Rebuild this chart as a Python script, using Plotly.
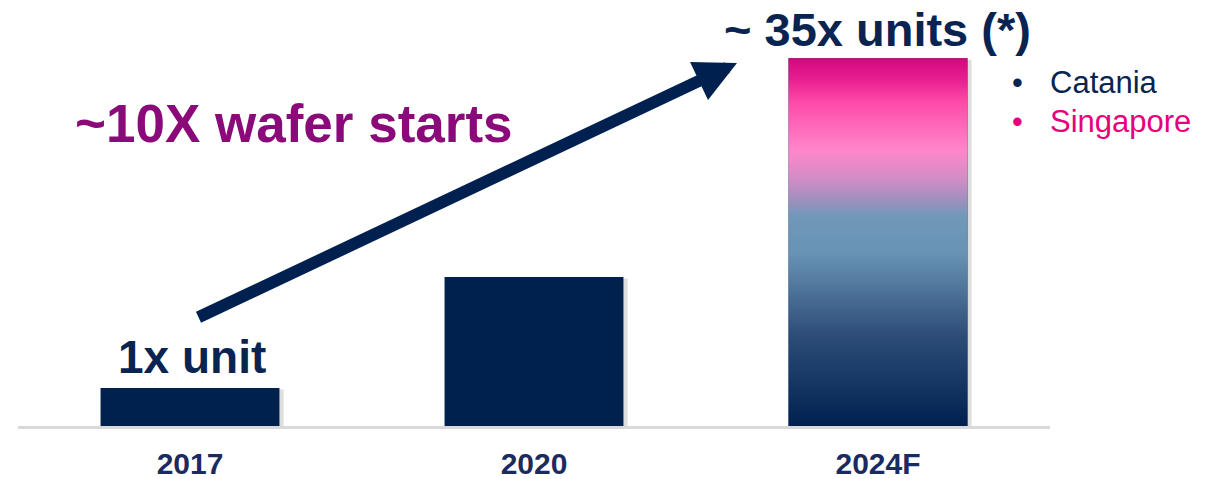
import plotly.graph_objects as go

# ---- data ----
years = ["2017", "2020", "2024F"]
units = [1.0, 3.92, 9.68]          # relative capacity (2017 = 1x)
grad_stops = [
    [0.00, "#00204F"],
    [0.25, "#2E4E79"],
    [0.47, "#6893B5"],
    [0.57, "#7098B8"],
    [0.62, "#A58FBF"],
    [0.67, "#D08DC6"],
    [0.75, "#FF87C9"],
    [0.82, "#FF66B8"],
    [0.88, "#FF4AA9"],
    [0.94, "#E82090"],
    [1.00, "#D5067D"],
]
label_top = "~ 35x units (*)"
label_mid = "~10X wafer starts"
label_low = "1x unit"
legend_items = [("Catania", "#0A2452"), ("Singapore", "#E6007E")]

W, H = 1216, 479
ML, MR, MT, MB = 18, 166, 0, 53
BAR_W = 0.52
PPU = 38.0                       # pixels per unit
YMAX = (H - MT - MB) / PPU
xs = list(range(len(years)))

def dx(px):
    return (px - ML) / ((W - ML - MR) / 3) - 0.5

def dy(py):
    return (H - MB - py) / PPU

fig = go.Figure()

# soft shadows
fig.add_trace(go.Bar(x=[x + 0.012 for x in xs], y=[u + 0.02 for u in units], base=-0.06,
                     width=BAR_W, marker=dict(color="rgba(0,0,0,0.13)", line_width=0),
                     hoverinfo="skip", showlegend=False))
fig.add_trace(go.Bar(x=xs, y=units, width=BAR_W,
                     marker=dict(color=["#00204E", "#00204E", "#00204E"], line_width=0),
                     showlegend=False))

# gradient for the forecast bar
i = 2
x0, x1 = xs[i] - BAR_W / 2, xs[i] + BAR_W / 2
fig.add_trace(go.Scatter(x=[x0, x1, x1, x0, x0], y=[0, 0, units[i], units[i], 0],
                         mode="lines", line=dict(width=0), fill="toself",
                         fillgradient=dict(type="vertical", colorscale=grad_stops),
                         hoverinfo="skip", showlegend=False))

fig.update_layout(
    width=W, height=H, margin=dict(l=ML, r=MR, t=MT, b=MB, autoexpand=False),
    plot_bgcolor="white", paper_bgcolor="white", barmode="overlay",
    xaxis=dict(range=[-0.5, 2.5], tickmode="array", tickvals=xs, automargin=False,
               ticktext=[f"<b>{y}</b>" for y in years], showgrid=False, zeroline=False,
               showline=True, linecolor="#D9D9D9", linewidth=3, ticks="",
               tickfont=dict(family="Liberation Sans, Arial", size=30, color="#1C2B5E"),
               ticklabelstandoff=9),
    yaxis=dict(range=[0, YMAX], visible=False, automargin=False),
)

font_b = "Liberation Sans, Arial"
fig.add_annotation(x=dx(877), y=dy(29), text=f"<b>{label_top}</b>", showarrow=False,
                   font=dict(family=font_b, size=47, color="#0A2452"), xanchor="center", yanchor="middle")
fig.add_annotation(x=dx(294), y=dy(123), text=f"<b>{label_mid}</b>", showarrow=False,
                   font=dict(family=font_b, size=53, color="#8A0A7A"), xanchor="center", yanchor="middle")
fig.add_annotation(x=dx(192), y=dy(357), text=f"<b>{label_low}</b>", showarrow=False,
                   font=dict(family=font_b, size=46, color="#0A2452"), xanchor="center", yanchor="middle")

for k, (name, col) in enumerate(legend_items):
    yy = dy(82 + 39 * k)
    fig.add_annotation(x=dx(1017), y=yy, text="•", showarrow=False,
                       font=dict(family=font_b, size=31, color=col), xanchor="center", yanchor="middle")
    fig.add_annotation(x=dx(1048), y=yy, text=name, showarrow=False,
                       font=dict(family=font_b, size=31, color=col), xanchor="left", yanchor="middle")

# growth arrow
fig.add_annotation(x=dx(737), y=dy(63), ax=dx(197), ay=dy(318), axref="x", ayref="y",
                   xref="x", yref="y", text="", showarrow=True, arrowhead=2,
                   arrowwidth=12, arrowsize=0.7, arrowcolor="#00214F", standoff=0)

fig.write_html("out.html")
